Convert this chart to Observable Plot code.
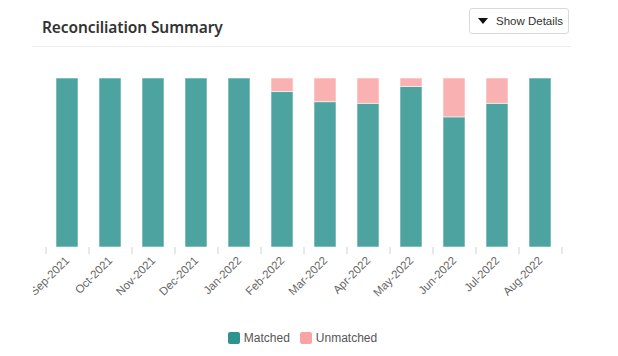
<!DOCTYPE html>
<html>
<head>
<meta charset="utf-8">
<script src="https://cdn.jsdelivr.net/npm/d3@7"></script>
<script src="https://cdn.jsdelivr.net/npm/@observablehq/plot@0.6"></script>
<style>
  html, body { margin: 0; padding: 0; background: #fff; }
  body { width: 618px; height: 356px; position: relative; overflow: hidden; font-family: "Liberation Sans", Arial, sans-serif; }
  #title { position: absolute; left: 42px; top: 20px; line-height: 1; font-family: "Noto Sans", sans-serif; font-weight: 600; font-size: 15.5px; color: #333; letter-spacing: -0.1px; white-space: nowrap; }
  #btn { position: absolute; left: 469px; top: 8px; width: 100px; height: 26px; box-sizing: border-box; border: 1px solid #d9d9d9; border-radius: 3px; background: #fff; font-size: 11.5px; color: #333; display: flex; align-items: center; padding-left: 8px; }
  #btn .tri { width: 0; height: 0; border-left: 5px solid transparent; border-right: 5px solid transparent; border-top: 6px solid #111; margin-right: 8px; }
  #rule { position: absolute; left: 32px; top: 46px; width: 539px; height: 1px; background: #eeeeee; }
  #chart { position: absolute; left: 0; top: 48px; clip-path: inset(0 0 0 33px); }
  #legend { position: absolute; top: 331px; left: 0; width: 618px; display: flex; justify-content: center; gap: 10px; font-size: 12px; color: #555; padding-right: 13px; box-sizing: border-box; }
  #legend .item { display: flex; align-items: center; }
  #legend .sw { width: 12px; height: 12px; border-radius: 2px; margin-right: 4px; }
</style>
</head>
<body>
<div id="title">Reconciliation Summary</div>
<div id="btn"><span class="tri"></span>Show Details</div>
<div id="rule"></div>
<div id="chart"></div>
<div id="legend"></div>
<script>
const months = ["Sep-2021","Oct-2021","Nov-2021","Dec-2021","Jan-2022","Feb-2022","Mar-2022","Apr-2022","May-2022","Jun-2022","Jul-2022","Aug-2022"];
const matched = [100, 100, 100, 100, 100, 92, 86, 85, 95, 77, 85, 100];
const unmatched = [0, 0, 0, 0, 0, 8, 14, 15, 5, 23, 15, 0];
const seriesNames = ["Matched", "Unmatched"];
const seriesColors = ["#2e938f", "#f8a3a4"];

const data = [];
months.forEach((m, i) => {
  data.push({month: m, status: seriesNames[0], value: matched[i]});
  data.push({month: m, status: seriesNames[1], value: unmatched[i]});
});

const plot = Plot.plot({
  width: 618,
  height: 270,
  marginLeft: 45.5,
  marginRight: 56.5,
  marginTop: 30,
  marginBottom: 71,
  style: {fontFamily: "'Liberation Sans', Arial, sans-serif", fontSize: "11.5px", color: "#666", background: "transparent"},
  x: {domain: months, paddingInner: 0.5, paddingOuter: 0.25, axis: null, label: null},
  y: {domain: [0, 100], axis: null},
  color: {domain: seriesNames, range: seriesColors},
  marks: [
    Plot.barY(data, {x: "month", y: "value", fill: "status", fillOpacity: 0.85, stroke: "#ffffff", strokeOpacity: 0.55, strokeWidth: 1, order: seriesNames}),
    Plot.axisX({tickSize: 7, tickPadding: 0, text: null, label: null, dx: -21.5, stroke: "#e8e8e8", strokeWidth: 2}),
    Plot.axisX({ticks: [months[months.length - 1]], tickSize: 7, text: null, label: null, dx: 21.5, stroke: "#e8e8e8", strokeWidth: 2}),
    Plot.axisX({tickSize: 0, tickPadding: 11, tickRotate: -45, label: null, fill: "#666", fontSize: 11.5, dx: 0})
  ]
});
document.getElementById("chart").appendChild(plot);

const legend = document.getElementById("legend");
seriesNames.forEach((name, i) => {
  const item = document.createElement("div");
  item.className = "item";
  const sw = document.createElement("span");
  sw.className = "sw";
  sw.style.background = seriesColors[i];
  item.appendChild(sw);
  item.appendChild(document.createTextNode(name));
  legend.appendChild(item);
});
</script>
</body>
</html>
